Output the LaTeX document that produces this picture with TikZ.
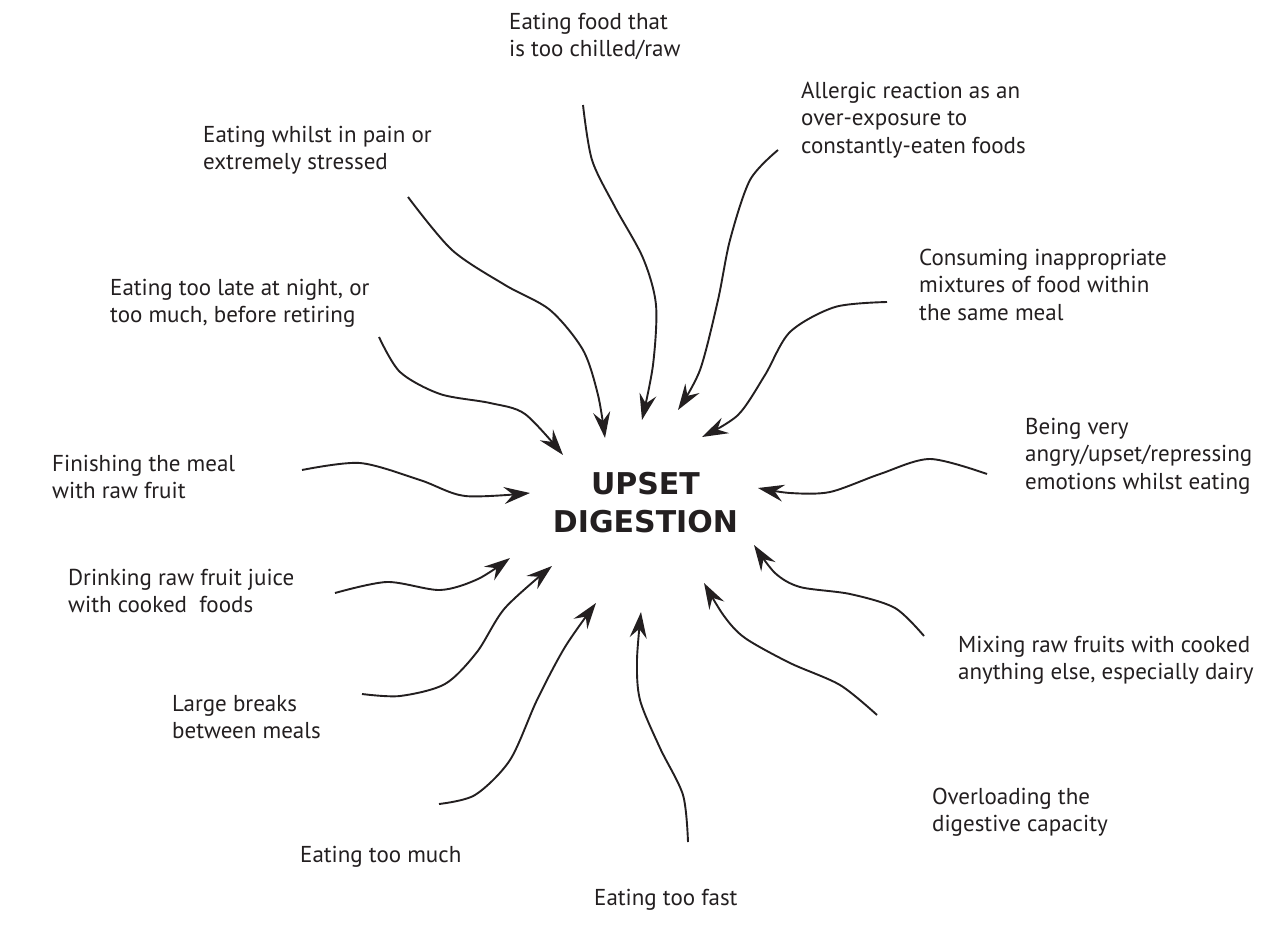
\documentclass[tikz,border=0pt]{standalone}
\usepackage{fontspec}
\setmainfont{PT Sans}
\newfontfamily\titlefont{DejaVu Sans}
\usetikzlibrary{arrows.meta}
\definecolor{ink}{HTML}{231F20}
\tikzset{
  lbl/.style={anchor=base west, inner sep=0pt, align=left, text=ink,
    font=\fontsize{23}{27.5}\selectfont},
  ttl/.style={anchor=base, inner sep=0pt, align=center, text=ink,
    font=\titlefont\bfseries\fontsize{30}{38}\selectfont},
  arr/.style={draw=ink, line width=1.9pt,
    -{Stealth[length=26pt,width=17pt,inset=9pt]}}
}
\begin{document}
\begin{tikzpicture}[x=1pt,y=-1pt]
\useasboundingbox[fill=white] (0,0) rectangle (1283,929);
% title (base anchor = baseline of last line)
\node[ttl] (c) at (645.5,532) {UPSET\\DIGESTION};
% labels (base anchor = baseline of last line)
\node[lbl] (chilled) at (509,56.5) {Eating food that\\is too chilled/raw};
\node[lbl] (allergic) at (801,153) {Allergic reaction as an\\over-exposure to\\constantly-eaten foods};
\node[lbl] (pain) at (203,169.5) {Eating whilst in pain or\\extremely stressed};
\node[lbl] (consum) at (919,320) {Consuming inappropriate\\mixtures of food within\\the same meal};
\node[lbl] (late) at (110,322.5) {Eating too late at night, or\\too much, before retiring};
\node[lbl] (finish) at (52,498.5) {Finishing the meal\\with raw fruit};
\node[lbl] (being) at (1025,489) {Being very\\angry/upset/repressing\\emotions whilst eating};
\node[lbl] (drink) at (68,612.5) {Drinking raw fruit juice\\with cooked\ \ foods};
\node[lbl] (mixing) at (958,679.5) {Mixing raw fruits with cooked\\anything else, especially dairy};
\node[lbl] (breaks) at (172,738.5) {Large breaks\\between meals};
\node[lbl] (overload) at (932,831.5) {Overloading the\\digestive capacity};
\node[lbl] (much) at (300,862) {Eating too much};
\node[lbl] (fast) at (594,905) {Eating too fast};
% arrow ends
\coordinate (sA) at (408,197); \coordinate (tA) at (605,438);
\coordinate (sB) at (583,105); \coordinate (tB) at (642,420);
\coordinate (sC) at (379,337); \coordinate (tC) at (563,455);
\coordinate (sD) at (302,470); \coordinate (tD) at (530,493);
\coordinate (sE) at (778,150); \coordinate (tE) at (678,410);
\coordinate (sF) at (887,302); \coordinate (tF) at (702,437);
\coordinate (sG) at (987,474); \coordinate (tG) at (758,488);
\coordinate (sH) at (335,593); \coordinate (tH) at (510,558);
\coordinate (sI) at (362,694); \coordinate (tI) at (552,566);
\coordinate (sJ) at (439,804); \coordinate (tJ) at (596,603);
\coordinate (sK) at (688,842); \coordinate (tK) at (641,612);
\coordinate (sL) at (877,715); \coordinate (tL) at (704,583);
\coordinate (sM) at (924,636); \coordinate (tM) at (754,545);
% arrows
\draw[arr] plot[smooth] coordinates {(sA) (452,250) (505,285) (550,310) (583,350) (598,395) (tA)};
\draw[arr] plot[smooth] coordinates {(sB) (592,160) (615,207) (643,258) (656,305) (653,365) (tB)};
\draw[arr] plot[smooth] coordinates {(sC) (400,372) (440,394) (490,403) (525,414) (tC)};
\draw[arr] plot[smooth] coordinates {(sD) (360,463) (420,480) (465,496) (tD)};
\draw[arr] plot[smooth] coordinates {(sE) (750,180) (730,240) (718,300) (700,370) (tE)};
\draw[arr] plot[smooth] coordinates {(sF) (835,307) (790,332) (765,375) (738,415) (tF)};
\draw[arr] plot[smooth] coordinates {(sG) (930,459) (880,474) (830,492) (790,493) (tG)};
\draw[arr] plot[smooth] coordinates {(sH) (387,582) (440,590) (478,579) (tH)};
\draw[arr] plot[smooth] coordinates {(sI) (400,696) (445,684) (477,652) (505,608) (tI)};
\draw[arr] plot[smooth] coordinates {(sJ) (475,795) (510,760) (537,700) (565,647) (tJ)};
\draw[arr] plot[smooth] coordinates {(sK) (683,795) (660,748) (640,700) (637,660) (tK)};
\draw[arr] plot[smooth] coordinates {(sL) (840,685) (790,663) (745,638) (724,616) (tL)};
\draw[arr] plot[smooth] coordinates {(sM) (895,608) (850,594) (800,587) (775,573) (tM)};
\end{tikzpicture}
\end{document}
